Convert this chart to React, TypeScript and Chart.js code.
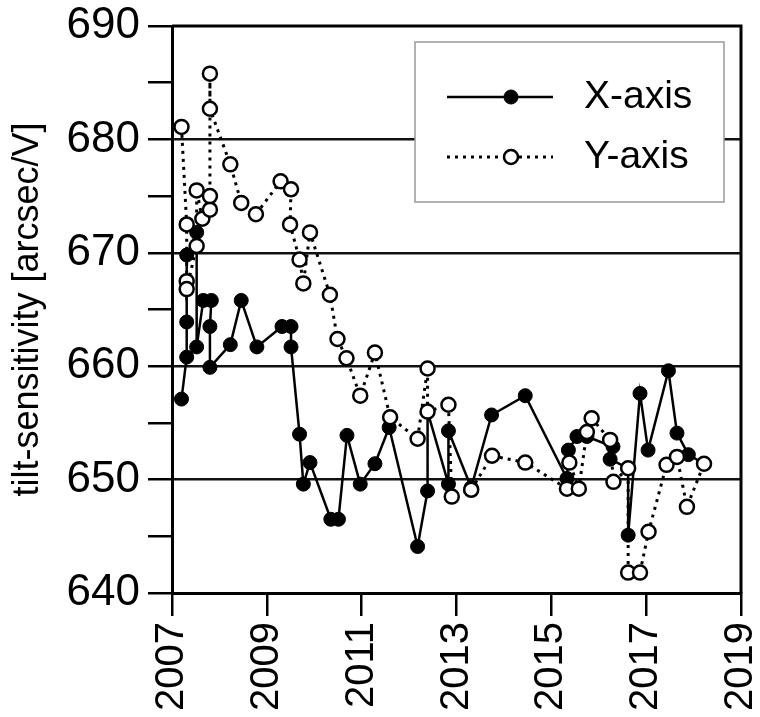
import React, { useEffect, useRef } from 'react';
import { Chart, registerables } from 'chart.js';

Chart.register(...registerables);

// X-axis tilt-sensitivity (filled circles)
const xAxisYears = [
  2007.20, 2007.31, 2007.31, 2007.31, 2007.52, 2007.52, 2007.66, 2007.83, 2007.80, 2007.80,
  2008.23, 2008.46, 2008.79, 2009.32, 2009.51, 2009.51, 2009.69, 2009.77, 2009.91, 2010.35,
  2010.51, 2010.69, 2010.97, 2011.28, 2011.58, 2012.18, 2012.39, 2012.39, 2012.83, 2012.83,
  2013.31, 2013.74, 2014.45, 2015.33, 2015.36, 2015.54, 2015.75, 2016.30, 2016.24, 2016.62,
  2016.62, 2016.87, 2017.04, 2017.47, 2017.65, 2017.89, 2018.22,
];
const xAxisValues = [
  657.1, 660.8, 663.9, 669.8, 671.8, 661.7, 665.8, 665.8, 663.5, 659.9,
  661.9, 665.8, 661.7, 663.5, 663.5, 661.7, 654.0, 649.6, 651.5, 646.5,
  646.5, 653.9, 649.6, 651.4, 654.6, 644.1, 649.0, 656.0, 649.6, 654.3,
  649.3, 655.7, 657.4, 650.1, 652.6, 653.8, 653.8, 652.9, 651.8, 651.0,
  645.1, 657.6, 652.6, 659.6, 654.1, 652.2, 651.4,
];

// Y-axis tilt-sensitivity (open circles)
const yAxisYears = [
  2007.20, 2007.31, 2007.31, 2007.31, 2007.52, 2007.52, 2007.64, 2007.80, 2007.80, 2007.80,
  2007.80, 2008.23, 2008.46, 2008.77, 2009.29, 2009.51, 2009.49, 2009.69, 2009.77, 2009.91,
  2010.33, 2010.49, 2010.68, 2010.97, 2011.28, 2011.60, 2012.18, 2012.39, 2012.39, 2012.83,
  2012.90, 2013.31, 2013.75, 2014.45, 2015.33, 2015.38, 2015.58, 2015.75, 2015.85, 2016.24,
  2016.31, 2016.62, 2016.62, 2016.87, 2017.05, 2017.43, 2017.65, 2017.86, 2018.22,
];
const yAxisValues = [
  681.1, 672.5, 667.5, 666.8, 670.6, 675.5, 673.0, 673.8, 675.0, 685.8,
  682.7, 677.8, 674.4, 673.4, 676.3, 675.6, 672.5, 669.4, 667.3, 671.8,
  666.3, 662.4, 660.7, 657.4, 661.2, 655.5, 653.6, 659.8, 656.0, 656.6,
  648.5, 649.1, 652.1, 651.5, 649.2, 651.5, 649.2, 654.2, 655.4, 653.5,
  649.8, 651.0, 641.8, 641.8, 645.4, 651.3, 652.0, 647.6, 651.4,
];

const yTickValues = [640, 645, 650, 655, 660, 665, 670, 675, 680, 685, 690];
const xTickYears = [2007, 2009, 2011, 2013, 2015, 2017, 2019];
const seriesLabels = ['X-axis', 'Y-axis'];
const yTitle = 'tilt-sensitivity [arcsec/V]';

const FONT = '"Liberation Sans", Arial, Helvetica, sans-serif';

const framePlugin = {
  id: 'frameAndLegend',
  afterDraw(chart: any) {
    const { ctx, chartArea } = chart;
    ctx.save();
    // right & top border
    ctx.strokeStyle = '#000';
    ctx.lineWidth = 3;
    ctx.beginPath();
    ctx.moveTo(chartArea.left, chartArea.top);
    ctx.lineTo(chartArea.right, chartArea.top);
    ctx.lineTo(chartArea.right, chartArea.bottom);
    ctx.stroke();

    // legend box
    const bx = 415, by = 42, bw = 309, bh = 160;
    ctx.fillStyle = '#fff';
    ctx.fillRect(bx, by, bw, bh);
    ctx.strokeStyle = '#999';
    ctx.lineWidth = 1.5;
    ctx.strokeRect(bx, by, bw, bh);

    const rows = [97, 157];
    rows.forEach((ry, i) => {
      ctx.strokeStyle = '#000';
      ctx.lineWidth = i === 0 ? 2.5 : 3;
      ctx.setLineDash(i === 0 ? [] : [3, 5]);
      ctx.beginPath();
      ctx.moveTo(447, ry);
      ctx.lineTo(553, ry);
      ctx.stroke();
      ctx.setLineDash([]);
      ctx.beginPath();
      ctx.arc(511, ry, 7, 0, Math.PI * 2);
      ctx.fillStyle = i === 0 ? '#000' : '#fff';
      ctx.fill();
      ctx.lineWidth = i === 0 ? 1 : 2.5;
      ctx.stroke();
      ctx.fillStyle = '#000';
      ctx.font = `39px ${FONT}`;
      ctx.textBaseline = 'middle';
      ctx.textAlign = 'left';
      ctx.fillText(seriesLabels[i], 584, ry);
    });
    ctx.restore();
  },
};

export default function App() {
  const ref = useRef<HTMLCanvasElement | null>(null);

  useEffect(() => {
    document.body.style.margin = '0';
    const canvas = ref.current;
    if (!canvas) return;
    Chart.defaults.font.family = FONT;
    Chart.defaults.color = '#000';

    const chart = new Chart(canvas, {
      type: 'line',
      data: {
        datasets: [
          {
            label: seriesLabels[1],
            data: yAxisYears.map((x, i) => ({ x, y: yAxisValues[i] })),
            borderColor: '#000',
            borderWidth: 3,
            borderDash: [3, 5],
            pointRadius: 7,
            pointBackgroundColor: '#fff',
            pointBorderColor: '#000',
            pointBorderWidth: 2.5,
            tension: 0,
            fill: false,
          },
          {
            label: seriesLabels[0],
            data: xAxisYears.map((x, i) => ({ x, y: xAxisValues[i] })),
            borderColor: '#000',
            borderWidth: 2.5,
            pointRadius: 7,
            pointBackgroundColor: '#000',
            pointBorderColor: '#000',
            pointBorderWidth: 1,
            tension: 0,
            fill: false,
          },
        ],
      },
      options: {
        animation: false,
        responsive: false,
        maintainAspectRatio: false,
        layout: { padding: { left: 0, right: 19, top: 26, bottom: 0 } },
        plugins: {
          legend: { display: false },
          tooltip: { enabled: false },
        },
        scales: {
          x: {
            type: 'linear',
            min: 2007,
            max: 2019,
            afterBuildTicks: (scale: any) => {
              scale.ticks = xTickYears.map((v) => ({ value: v }));
            },
            afterFit: (scale: any) => {
              scale.height = 124;
              scale.paddingLeft = 0;
              scale.paddingRight = 0;
            },
            ticks: {
              minRotation: 90,
              maxRotation: 90,
              autoSkip: false,
              padding: 6,
              color: '#000',
              font: { size: 40 },
              callback: (v: any) => String(v),
            },
            grid: {
              display: true,
              drawOnChartArea: false,
              drawTicks: true,
              tickLength: 23,
              tickColor: '#000',
              lineWidth: 2.5,
            },
            border: { display: true, color: '#000', width: 3 },
          },
          y: {
            type: 'linear',
            min: 640,
            max: 690,
            afterBuildTicks: (scale: any) => {
              scale.ticks = yTickValues.map((v) => ({ value: v }));
            },
            afterFit: (scale: any) => {
              scale.width = 172;
              scale.paddingTop = 0;
              scale.paddingBottom = 0;
            },
            ticks: {
              autoSkip: false,
              padding: 8,
              color: '#000',
              font: { size: 44 },
              callback: (v: any) => (Number(v) % 10 === 0 ? String(v) : ''),
            },
            grid: {
              display: true,
              drawOnChartArea: true,
              drawTicks: true,
              tickLength: 24,
              tickColor: '#000',
              lineWidth: 2.5,
              color: (c: any) =>
                c.tick && c.tick.value % 10 === 0 && c.tick.value !== 640 && c.tick.value !== 690
                  ? '#111'
                  : 'rgba(0,0,0,0)',
            },
            border: { display: true, color: '#000', width: 3 },
            title: {
              display: true,
              text: yTitle,
              color: '#000',
              font: { size: 36 },
              padding: { top: 6, bottom: 0 },
            },
          },
        },
      },
      plugins: [framePlugin],
    } as any);

    return () => chart.destroy();
  }, []);

  return (
    <div style={{ width: 760, height: 717 }}>
      <canvas ref={ref} width={760} height={717} style={{ display: 'block', width: 760, height: 717 }} />
    </div>
  );
}
